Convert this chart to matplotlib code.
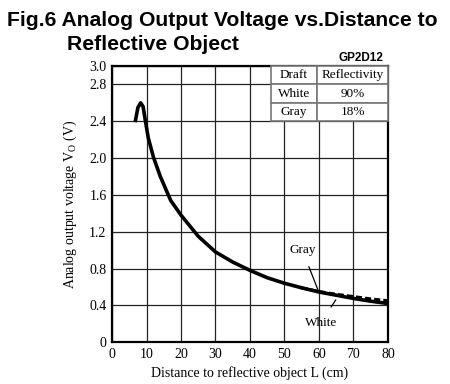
import matplotlib.pyplot as plt

# White (90%) and gray (18%) curves
white_L = [6.7, 7.5, 8.3, 9.0, 9.6, 10.5, 12, 14, 17, 20, 25, 30, 35, 40, 45, 50, 55, 60, 65, 70, 75, 80]
white_V = [2.39, 2.55, 2.60, 2.56, 2.42, 2.22, 2.01, 1.80, 1.54, 1.38, 1.15, 0.98, 0.87, 0.78, 0.70, 0.64,
           0.59, 0.545, 0.51, 0.475, 0.445, 0.42]
gray_L = [55, 60, 65, 70, 75, 80]
gray_V = [0.59, 0.55, 0.52, 0.495, 0.47, 0.45]

xticks = [0, 10, 20, 30, 40, 50, 60, 70, 80]
yticks = [0, 0.4, 0.8, 1.2, 1.6, 2.0, 2.4, 2.8, 3.0]
ytick_labels = ['0', '0.4', '0.8', '1.2', '1.6', '2.0', '2.4', '2.8', '3.0']

table_rows = [['Draft', 'Reflectivity'], ['White', '90%'], ['Gray', '18%']]

serif = ['Liberation Serif', 'DejaVu Serif']
sans = ['Liberation Sans', 'DejaVu Sans']

fig = plt.figure(figsize=(4.5, 3.84), dpi=100)
ax = fig.add_axes([0.249, 0.109, 0.613, 0.719])

ax.plot(white_L, white_V, color='black', lw=2.6, solid_capstyle='butt', zorder=4)
ax.plot(gray_L, gray_V, color='black', lw=2.2, ls=(0, (2, 1)), zorder=4)

ax.set_xlim(0, 80)
ax.set_ylim(0, 3.0)
ax.set_xticks(xticks)
ax.set_yticks(yticks)
ax.set_yticklabels(ytick_labels)
ax.tick_params(length=0, pad=4, labelsize=10)
for lab in ax.get_xticklabels() + ax.get_yticklabels():
    lab.set_fontfamily(serif)
ax.grid(True, color='#222222', lw=0.9)
ax.set_axisbelow(True)
for s in ax.spines.values():
    s.set_linewidth(1.6)

ax.set_xlabel('Distance to reflective object L (cm)', family=serif, fontsize=10, labelpad=4)
ax.set_ylabel('Analog output voltage V$_\\mathregular{O}$ (V)', family=serif, fontsize=10, labelpad=7)

tb = ax.table(cellText=table_rows, bbox=[46 / 80, 0.8, 34 / 80, 0.2],
              colWidths=[13.5, 20.5], cellLoc='center')
tb.auto_set_font_size(False)
for (r, c), cell in tb.get_celld().items():
    cell.set_edgecolor('#777777')
    cell.set_linewidth(1.2)
    cell.set_facecolor('white')
    cell.get_text().set_fontfamily(serif)
    cell.get_text().set_fontsize(9.5)
tb.set_zorder(3)

ax.annotate('Gray', xy=(59.8, 0.56), xytext=(55.2, 1.0), family=serif, fontsize=9.5,
            ha='center', va='center',
            arrowprops=dict(arrowstyle='-', color='black', lw=0.9, shrinkA=6, shrinkB=0))
ax.annotate('White', xy=(64.9, 0.46), xytext=(60.5, 0.21), family=serif, fontsize=9.5,
            ha='center', va='center',
            arrowprops=dict(arrowstyle='-', color='black', lw=0.9, shrinkA=6, shrinkB=0))

fig.text(7 / 450, 1 - 21 / 384, 'Fig.6 Analog Output Voltage vs.Distance to', family=sans,
         fontweight='bold', fontsize=15.2, ha='left', va='center')
fig.text(67 / 450, 1 - 44 / 384, 'Reflective Object', family=sans,
         fontweight='bold', fontsize=15.2, ha='left', va='center')
fig.text(383 / 450, 1 - 58 / 384, 'GP2D12', family=sans,
         fontweight='bold', fontsize=8.5, ha='right', va='center')

fig.savefig('out.png', dpi=100)
